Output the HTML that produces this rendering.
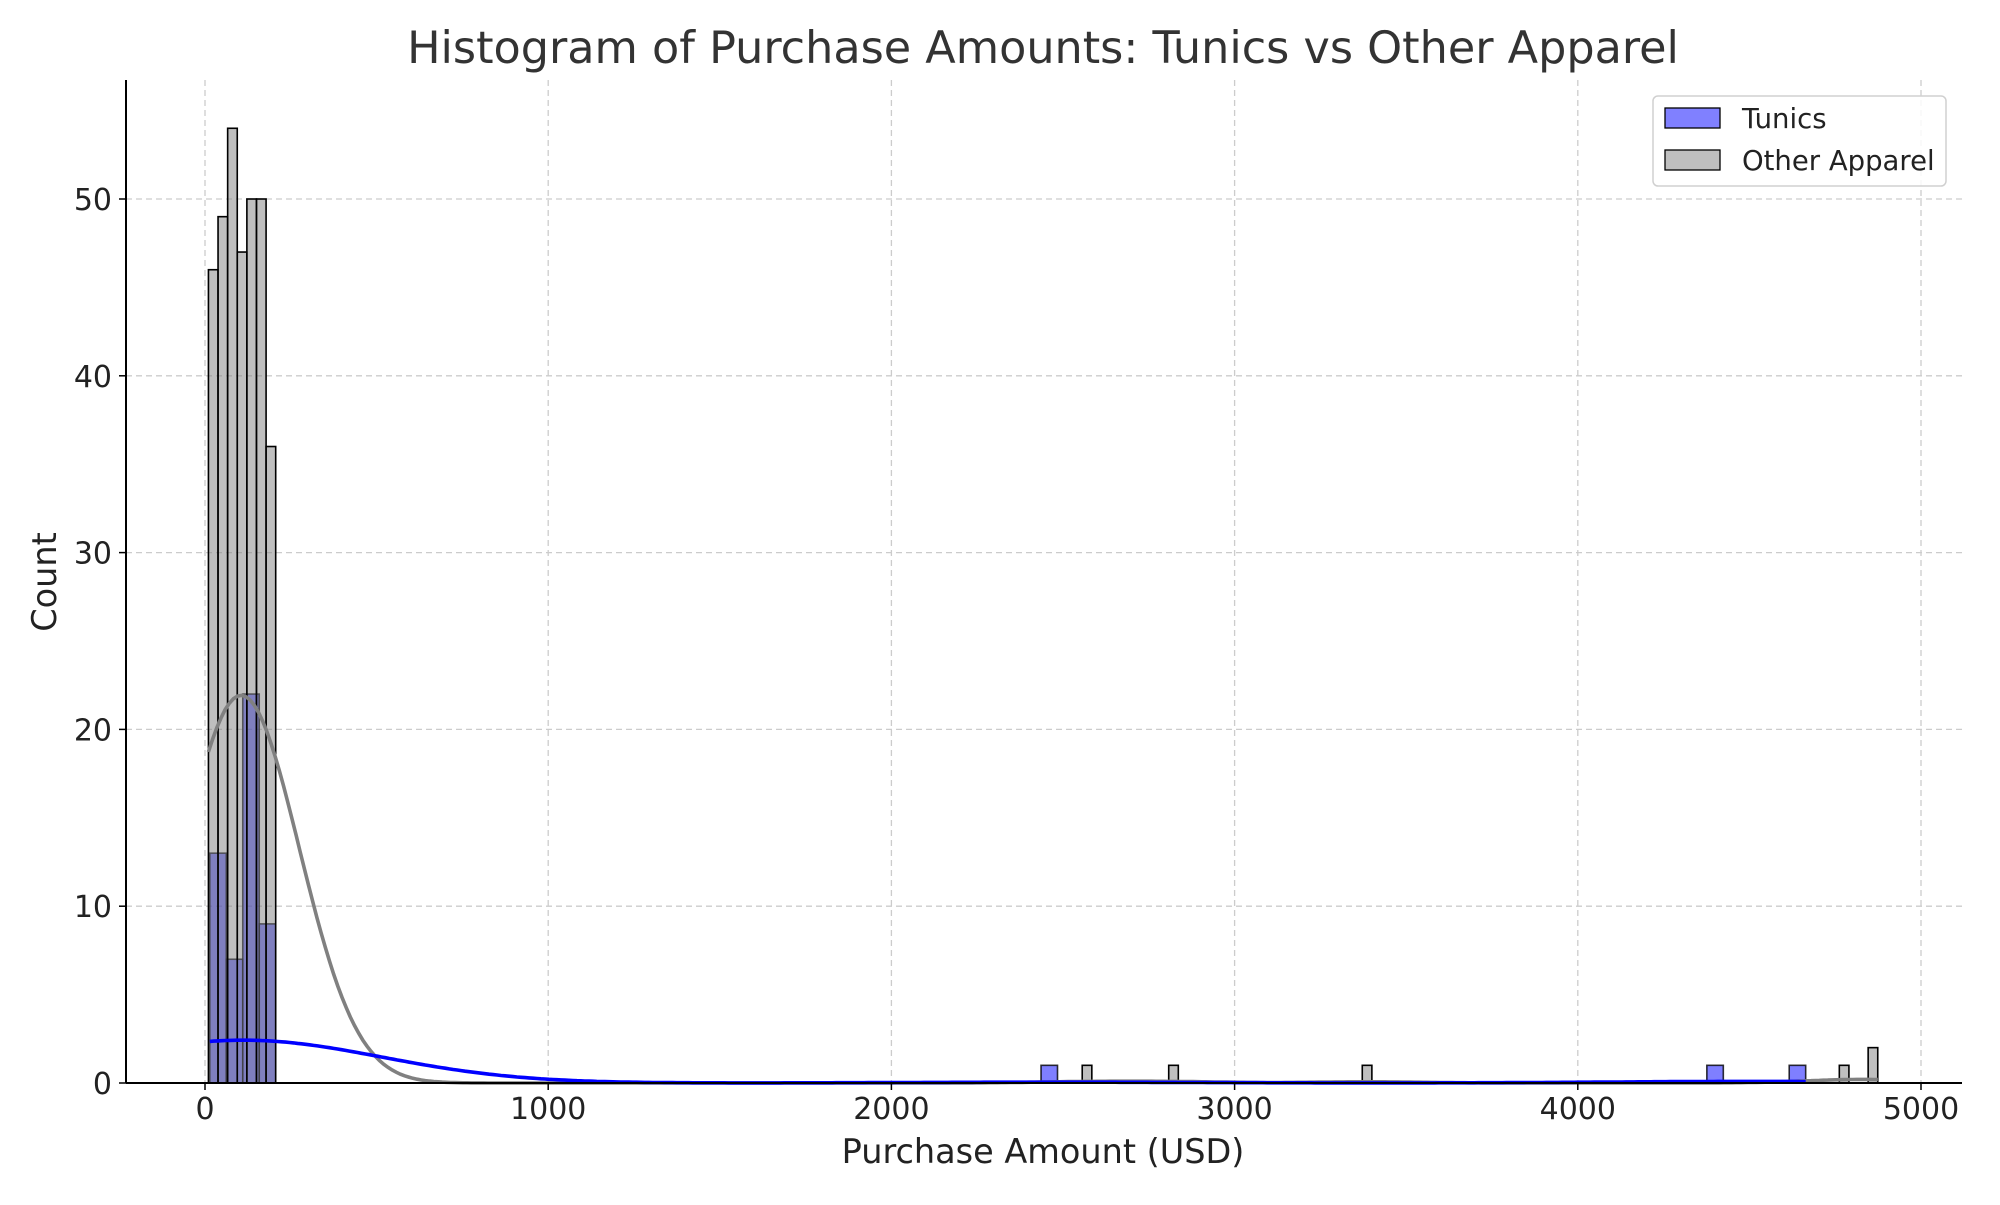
<!DOCTYPE html>
<html><head><meta charset="utf-8"><style>
body{margin:0;background:#fff}
svg text{font-family:"DejaVu Sans","Liberation Sans",sans-serif}
</style></head><body>
<svg id="c" width="2000" height="1200" xmlns="http://www.w3.org/2000/svg"></svg>
<script>
const xTicks=[0,1000,2000,3000,4000,5000];
const yTicks=[0,10,20,30,40,50];
const otherBinW=28;
const otherStarts=[10,38,66,94,122,150,178,2556,2808,3372,4762,4846];
const otherCounts=[46,49,54,47,50,50,36,1,1,1,1,2];
const tunicBinW=48;
const tunicStarts=[14,62,110,158,2436,4376,4616];
const tunicCounts=[13,7,22,9,1,1,1];
const otherBw=160, tunicBw=400;

const X0=205,XS=(1921-205)/5000,Y0=1083,YS=(1083-199)/50;
const x=v=>X0+v*XS, y=v=>Y0-v*YS;
const svg=document.getElementById('c');
const NS='http://www.w3.org/2000/svg';
function mk(t,a,p){const e=document.createElementNS(NS,t);for(const k in a)e.setAttribute(k,a[k]);(p||svg).appendChild(e);return e;}
const L=126,R=1962,T=80;
// grid
xTicks.forEach(v=>{const g=mk('line',{x1:x(v),x2:x(v),y1:T,y2:Y0,stroke:'#cccccc','stroke-width':1.3,'stroke-dasharray':'6,4'});

});
yTicks.slice(1).forEach(v=>{const g=mk('line',{x1:L,x2:R,y1:y(v),y2:y(v),stroke:'#cccccc','stroke-width':1.3,'stroke-dasharray':'6,4'});

});
// bars
tunicStarts.forEach((s,i)=>{const r=mk('rect',{x:x(s),y:y(tunicCounts[i]),width:tunicBinW*XS,height:tunicCounts[i]*YS,fill:'#0000ff','fill-opacity':0.5,stroke:'#000','stroke-width':1.6,'stroke-opacity':0.8});

});
otherStarts.forEach((s,i)=>{const r=mk('rect',{x:x(s),y:y(otherCounts[i]),width:otherBinW*XS,height:otherCounts[i]*YS,fill:'#808080','fill-opacity':0.5,stroke:'#000','stroke-width':1.6});

});
// kde
function kde(starts,counts,bw,binW,color,name){
  let lo=starts[0],hi=starts[starts.length-1]+binW;
  const pts=[];
  for(let k=0;k<=400;k++){const v=lo+(hi-lo)*k/400;let d=0;
    starts.forEach((s,i)=>{const c=s+binW/2;const z=(v-c)/bw;d+=counts[i]*Math.exp(-0.5*z*z)/(bw*Math.sqrt(2*Math.PI));});
    pts.push(x(v).toFixed(1)+','+y(d*binW).toFixed(1));}
  const p=mk('polyline',{points:pts.join(' '),fill:'none',stroke:color,'stroke-width':3.6});
  
  
}
kde(otherStarts,otherCounts,otherBw,otherBinW,'#808080','other-apparel-kde');
kde(tunicStarts,tunicCounts,tunicBw,tunicBinW,'#0000ff','tunics-kde');
// axes
let a=mk('line',{x1:L,x2:L,y1:T,y2:Y0,stroke:'#000','stroke-width':2});

a=mk('line',{x1:L,x2:R,y1:Y0,y2:Y0,stroke:'#000','stroke-width':2});

xTicks.forEach(v=>{mk('line',{x1:x(v),x2:x(v),y1:Y0,y2:Y0+7,stroke:'#000','stroke-width':1.5});
const t=mk('text',{x:x(v),y:Y0+36,'text-anchor':'middle','font-size':30,fill:'#222'});t.textContent=v;

});
yTicks.forEach(v=>{mk('line',{x1:L-7,x2:L,y1:y(v),y2:y(v),stroke:'#000','stroke-width':1.5});
const t=mk('text',{x:L-14,y:y(v)+11,'text-anchor':'end','font-size':30,fill:'#222'});t.textContent=v;

});
let t=mk('text',{x:1043,y:1163,'text-anchor':'middle','font-size':33.5,fill:'#222'});t.textContent='Purchase Amount (USD)';

t=mk('text',{x:56,y:582,'text-anchor':'middle','font-size':33.5,fill:'#222',transform:'rotate(-90 56 582)'});t.textContent='Count';

t=mk('text',{x:1043,y:63,'text-anchor':'middle','font-size':44.5,fill:'#333'});t.textContent='Histogram of Purchase Amounts: Tunics vs Other Apparel';

// legend
const lg=mk('g',{});

mk('rect',{x:1653,y:96,width:293,height:90,rx:5,fill:'#fff','fill-opacity':0.85,stroke:'#d0d0d0','stroke-width':1.5},lg);
[['Tunics','#8080ff',118],['Other Apparel','#bfbfbf',160]].forEach(e=>{
  const g=mk('g',{},lg);
  
  
  mk('rect',{x:1665,y:e[2]-10,width:55,height:20,fill:e[1],stroke:'#000','stroke-width':1.3},g);
  const tt=mk('text',{x:1742,y:e[2]+10,'font-size':27.5,fill:'#222'},g);tt.textContent=e[0];
});
</script>
</body></html>
